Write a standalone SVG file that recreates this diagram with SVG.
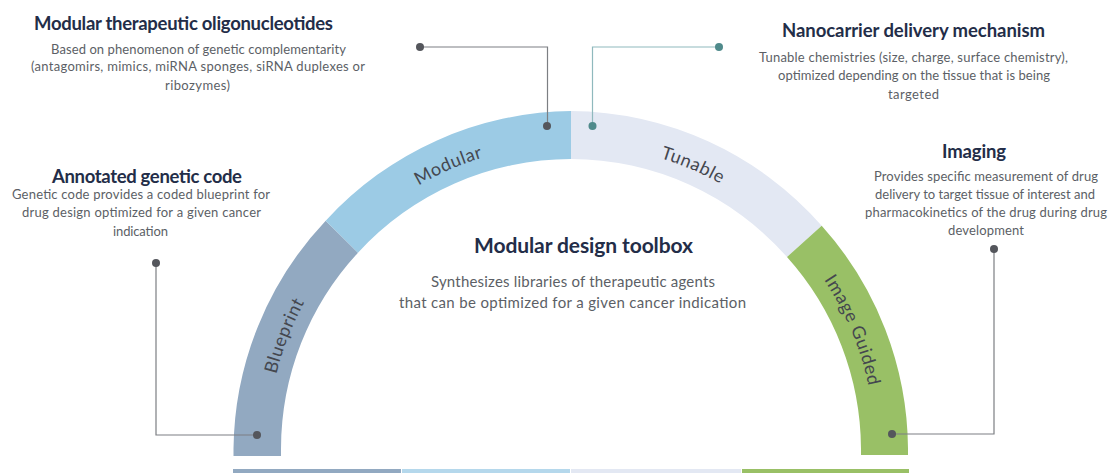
<svg xmlns="http://www.w3.org/2000/svg" width="1109" height="473" viewBox="0 0 1109 473">
<style>
text{font-family:"Lato","Open Sans",sans-serif}
.t{font-size:18.500px;font-weight:700;fill:#232d48}
.b{font-size:13px;fill:#5c5f66}
.l{font-size:18px;fill:#44474f;text-anchor:middle;letter-spacing:.6px}
.gray{fill:none;stroke:#7c7f83;stroke-width:1.2}
.teal{fill:none;stroke:#8fb9bd;stroke-width:1.2}
</style>
<defs><path id="labelArc" d="M267 448.500A304 304 0 0 1 875 448.500"/></defs>
<rect width="1109" height="473" fill="#fff"/>
<g id="seg-blueprint"><path d="M233.500 456V448.500A337.500 337.500 0 0 1 325.700 220.700L358 252.700A289 289 0 0 0 281 448.500V456Z" fill="#92a9c1"/><text class="l"><textPath href="#labelArc" startOffset="114">Blueprint</textPath></text><rect x="233" y="469" width="168" height="4" fill="#92a9c1"/></g>
<g id="seg-modular"><path d="M325.700 220.700A337.500 337.500 0 0 1 571 111V159A289 289 0 0 0 358 252.700Z" fill="#9ccbe5"/><text class="l"><textPath href="#labelArc" startOffset="353">Modular</textPath></text><rect x="402" y="469" width="168" height="4" fill="#b5d8ec"/></g>
<g id="seg-tunable"><path d="M571 111A337.500 337.500 0 0 1 821.700 225.700L787 257A289 289 0 0 0 571 159Z" fill="#e3e8f3"/><text class="l"><textPath href="#labelArc" startOffset="601">Tunable</textPath></text><rect x="571" y="469" width="170" height="4" fill="#e3e8f3"/></g>
<g id="seg-image"><path d="M821.700 225.700A337.500 337.500 0 0 1 908 448.500V455H861V448.500A289 289 0 0 0 787 257Z" fill="#99c066"/><text class="l"><textPath href="#labelArc" startOffset="834">Image Guided</textPath></text><rect x="742" y="469" width="167" height="4" fill="#99c066"/></g>
<g id="connectors">
<path class="gray" d="M547.500 126V47H420"/>
<path class="teal" d="M592.500 126V47H718"/>
<path class="gray" d="M257 435H156V263"/>
<path class="gray" d="M892 434H994V249"/>
<g fill="#54565c"><circle cx="547" cy="126" r="4"/><circle cx="420" cy="47" r="4"/><circle cx="257" cy="435" r="4"/><circle cx="156" cy="263" r="4"/><circle cx="892" cy="434" r="4"/><circle cx="994" cy="249" r="4"/></g>
<g fill="#4f8a8b"><circle cx="592.500" cy="126" r="4"/><circle cx="719" cy="47" r="4"/></g>
</g>
<g id="node-oligonucleotides">
<text class="t" x="34" y="30" textLength="299">Modular therapeutic oligonucleotides</text>
<text class="b" x="51" y="54" textLength="295">Based on phenomenon of genetic complementarity</text>
<text class="b" x="31" y="71" textLength="334">(antagomirs, mimics,  miRNA sponges, siRNA duplexes or</text>
<text class="b" x="165" y="90" textLength="65">ribozymes)</text>
</g>
<g id="node-genetic-code">
<text class="t" x="52" y="183" textLength="190">Annotated genetic code</text>
<text class="b" x="12" y="199" textLength="258">Genetic code provides a coded blueprint for</text>
<text class="b" x="22" y="217" textLength="239">drug design optimized for a given cancer</text>
<text class="b" x="113" y="236" textLength="55">indication</text>
</g>
<g id="node-nanocarrier">
<text class="t" x="782" y="37" textLength="263">Nanocarrier delivery mechanism</text>
<text class="b" x="759" y="62" textLength="309">Tunable chemistries (size, charge, surface chemistry),</text>
<text class="b" x="778" y="80" textLength="272">optimized depending on the tissue that is being</text>
<text class="b" x="888" y="99" textLength="51">targeted</text>
</g>
<g id="node-imaging">
<text class="t" x="942" y="158" textLength="64">Imaging</text>
<text class="b" x="874" y="181" textLength="224">Provides specific measurement of drug</text>
<text class="b" x="875" y="199" textLength="220">delivery to target tissue of interest and</text>
<text class="b" x="865" y="217" textLength="242">pharmacokinetics of the drug during drug</text>
<text class="b" x="948" y="235" textLength="76">development</text>
</g>
<g id="node-toolbox">
<text class="t" x="474" y="253" textLength="219" style="font-size:21px">Modular design toolbox</text>
<text class="b" x="431" y="287" textLength="284" style="font-size:15px">Synthesizes libraries of therapeutic agents</text>
<text class="b" x="399" y="308" textLength="347" style="font-size:15px">that can be optimized for a given cancer indication</text>
</g>
</svg>
